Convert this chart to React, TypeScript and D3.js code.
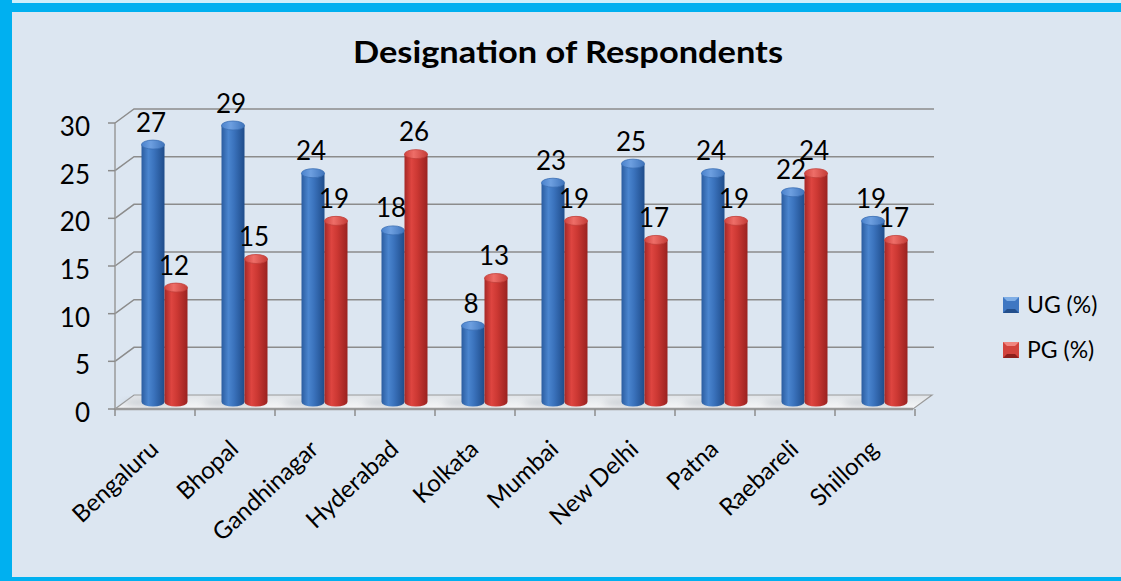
import React, { useEffect } from "react";
import * as d3 from "d3";

const categories = ["Bengaluru", "Bhopal", "Gandhinagar", "Hyderabad", "Kolkata", "Mumbai", "New Delhi", "Patna", "Raebareli", "Shillong"];
const ugValues = [27, 29, 24, 18, 8, 23, 25, 24, 22, 19];
const pgValues = [12, 15, 19, 26, 13, 19, 17, 19, 24, 17];
const yTicks = [0, 5, 10, 15, 20, 25, 30];
const seriesNames = ["UG (%)", "PG (%)"];

const W = 1121;
const H = 581;
const FONT = "Lato, 'Open Sans', sans-serif";

export default function App() {
  useEffect(() => {
    document.body.style.margin = "0";
    document.body.style.overflow = "hidden";
    document.body.style.background = "#DCE6F1";
  }, []);

  const x0 = 115, x1 = 915;
  const yFront0 = 409;
  const plotH = 286;
  const DX = 19, DY = -14;
  const x = d3.scaleBand<string>().domain(categories).range([x0, x1]).paddingInner(0).paddingOuter(0);
  const h = d3.scaleLinear().domain([0, 30]).range([0, plotH]);
  const barW = 23;
  const ry = 4.5;
  const midDX = DX / 2, midDY = DY / 2;
  const baseY = yFront0 + midDY;

  const cyl = (cx: number, v: number, series: number, key: string) => {
    const top = baseY - h(v);
    const left = cx - barW / 2;
    const grad = series === 0 ? "url(#gBlue)" : "url(#gRed)";
    const topFill = series === 0 ? "url(#tBlue)" : "url(#tRed)";
    const topStroke = series === 0 ? "#3B6FB4" : "#C2403B";
    return (
      <g key={key}>
        <path
          d={`M${left},${top} L${left},${baseY} A${barW / 2},${ry} 0 0 0 ${left + barW},${baseY} L${left + barW},${top} Z`}
          fill={grad}
        />
        <ellipse cx={cx} cy={top} rx={barW / 2} ry={ry} fill={topFill} stroke={topStroke} strokeWidth={0.8} />
      </g>
    );
  };

  const floorFront = yFront0;
  const floorBack = yFront0 + DY;

  return (
    <svg width={W} height={H} style={{ display: "block", position: "absolute", left: 0, top: 0 }}>
      <defs>
        <linearGradient id="gBlue" x1="0" x2="1" y1="0" y2="0">
          <stop offset="0" stopColor="#2B5C9F" />
          <stop offset="0.3" stopColor="#4A85CF" />
          <stop offset="0.55" stopColor="#3A72BC" />
          <stop offset="1" stopColor="#1F4C8A" />
        </linearGradient>
        <linearGradient id="gRed" x1="0" x2="1" y1="0" y2="0">
          <stop offset="0" stopColor="#A52826" />
          <stop offset="0.3" stopColor="#DE4540" />
          <stop offset="0.55" stopColor="#CC3833" />
          <stop offset="1" stopColor="#9A2220" />
        </linearGradient>
        <linearGradient id="tBlue" x1="0" x2="1" y1="0" y2="0">
          <stop offset="0" stopColor="#4A82CC" />
          <stop offset="0.4" stopColor="#6D9FE0" />
          <stop offset="1" stopColor="#3E73BA" />
        </linearGradient>
        <linearGradient id="tRed" x1="0" x2="1" y1="0" y2="0">
          <stop offset="0" stopColor="#D0443F" />
          <stop offset="0.4" stopColor="#EE6E68" />
          <stop offset="1" stopColor="#C43C37" />
        </linearGradient>
        <linearGradient id="gFloor" x1="0" x2="0" y1="0" y2="1">
          <stop offset="0" stopColor="#E0E4E8" />
          <stop offset="1" stopColor="#F6F7F8" />
        </linearGradient>
        <filter id="blur" x="-50%" y="-50%" width="200%" height="200%">
          <feGaussianBlur stdDeviation="3" />
        </filter>
      </defs>
      <rect x={0} y={0} width={W} height={H} fill="#DCE6F1" />
      {/* border strips: top, left, bottom */}
      <rect x={0} y={0} width={W} height={12} fill="#00B0F0" />
      <rect x={0} y={0} width={W} height={3} fill="#CFEFFB" />
      <rect x={0} y={0} width={12} height={H} fill="#00B0F0" />
      <rect x={0} y={577} width={W} height={H - 577} fill="#00B0F0" />

      <text x={568} y={63} textAnchor="middle" fontFamily={FONT} fontWeight={700} fontSize={30} textLength={430} lengthAdjust="spacingAndGlyphs" fill="#000">
        Designation of Respondents
      </text>

      {/* floor */}
      <path
        d={`M${x0},${floorFront} L${x1 - 2},${floorFront} L${x1 - 2 + DX},${floorBack} L${x0 + DX},${floorBack} Z`}
        fill="url(#gFloor)"
        stroke="#9A9A9A"
        strokeWidth={1.2}
      />
      <line x1={x0} x2={x1 - 2} y1={floorFront} y2={floorFront} stroke="#9A9A9A" strokeWidth={2.5} />

      {/* gridlines on back wall */}
      {yTicks.filter((t) => t > 0).map((t) => {
        const yf = yFront0 - h(t);
        return (
          <polyline
            key={"g" + t}
            points={`${x0},${yf} ${x0 + DX},${yf + DY} ${x1 + DX},${yf + DY}`}
            fill="none"
            stroke="#8C8C8C"
            strokeWidth={1.5}
          />
        );
      })}

      {/* front y axis */}
      <line x1={x0} x2={x0} y1={yFront0 - h(30)} y2={yFront0} stroke="#9A9A9A" strokeWidth={1.5} />
      {yTicks.map((t) => {
        const yf = yFront0 - h(t);
        return (
          <g key={"t" + t}>
            <line x1={x0 - 7} x2={x0} y1={yf} y2={yf} stroke="#8C8C8C" strokeWidth={1.5} />
            <text x={90} y={yf + 13} textAnchor="end" fontFamily={FONT} fontSize={26} fill="#000">
              {t}
            </text>
          </g>
        );
      })}

      {/* x ticks */}
      {d3.range(categories.length + 1).map((i) => {
        const xx = x0 + i * x.bandwidth();
        return <line key={"xt" + i} x1={xx} x2={xx} y1={floorFront} y2={floorFront + 7} stroke="#8C8C8C" strokeWidth={1.5} />;
      })}

      {/* shadows */}
      {categories.map((c) => {
        const cx = (x(c) as number) + x.bandwidth() / 2 + midDX;
        return (
          <ellipse key={"s" + c} cx={cx - 12} cy={baseY + 1} rx={30} ry={3.5} fill="#B0B6BE" opacity={0.6} filter="url(#blur)" />
        );
      })}

      {/* bars */}
      {categories.map((c, i) => {
        const cx = (x(c) as number) + x.bandwidth() / 2 + midDX;
        return (
          <g key={"b" + c}>
            {cyl(cx - barW / 2, ugValues[i], 0, "u" + c)}
            {cyl(cx + barW / 2, pgValues[i], 1, "p" + c)}
          </g>
        );
      })}

      {/* value labels */}
      {categories.map((c, i) => {
        const cx = (x(c) as number) + x.bandwidth() / 2 + midDX;
        return (
          <g key={"l" + c} fontFamily={FONT} fontSize={26} fill="#000" textAnchor="middle">
            <text x={cx - barW / 2 - 2} y={baseY - h(ugValues[i]) - 13}>{ugValues[i]}</text>
            <text x={cx + barW / 2 - 2} y={baseY - h(pgValues[i]) - 13}>{pgValues[i]}</text>
          </g>
        );
      })}

      {/* x labels */}
      {categories.map((c) => {
        const cx = (x(c) as number) + x.bandwidth() / 2;
        return (
          <text
            key={"xl" + c}
            transform={`translate(${cx + 5},${451}) rotate(-43)`}
            textAnchor="end"
            fontFamily={FONT}
            fontSize={24}
            fill="#000"
          >
            {c}
          </text>
        );
      })}

      {/* legend */}
      {seriesNames.map((s, i) => {
        const ly = 297 + i * 45;
        const lx = 1003;
        const sz = 16;
        const light = i === 0 ? "#7FAEE6" : "#F0857F";
        const mid = i === 0 ? "#3F77C2" : "#D2423C";
        const dark = i === 0 ? "#234F8C" : "#8E1F1C";
        const inset = 4;
        return (
          <g key={"leg" + s}>
            <rect x={lx} y={ly} width={sz} height={sz} fill={mid} />
            <polygon points={`${lx},${ly} ${lx + sz},${ly} ${lx + sz - inset},${ly + inset} ${lx + inset},${ly + inset}`} fill={light} />
            <polygon points={`${lx},${ly + sz} ${lx + sz},${ly + sz} ${lx + sz - inset},${ly + sz - inset} ${lx + inset},${ly + sz - inset}`} fill={dark} />
            <rect x={lx + inset} y={ly + inset} width={sz - 2 * inset} height={sz - 2 * inset} fill={mid} />
            <text x={1027} y={ly + 16} fontFamily={FONT} fontSize={23} fill="#000">
              {s}
            </text>
          </g>
        );
      })}
    </svg>
  );
}
